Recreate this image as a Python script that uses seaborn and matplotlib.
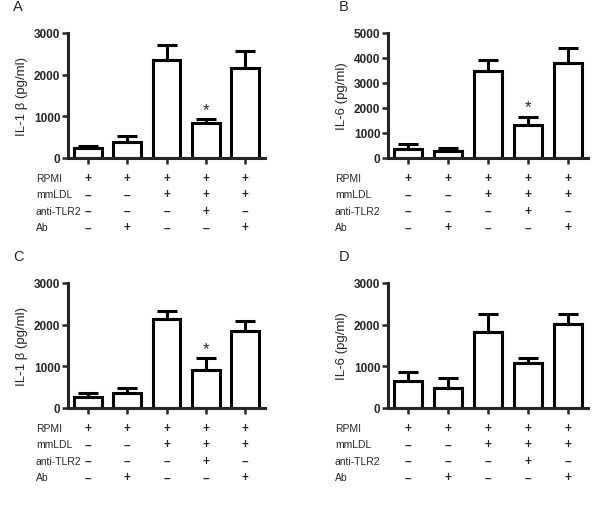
import numpy as np
import pandas as pd
import matplotlib
matplotlib.use("Agg")
import matplotlib.pyplot as plt
import seaborn as sns

sns.set_style("ticks")
plt.rcParams['font.family'] = ['Liberation Sans', 'DejaVu Sans']

groups = ['g1', 'g2', 'g3', 'g4', 'g5']
row_names = ['RPMI', 'mmLDL', 'anti-TLR2', 'Ab']
row_signs = [['+', '+', '+', '+', '+'],
             ['–', '–', '+', '+', '+'],
             ['–', '–', '–', '+', '–'],
             ['–', '+', '–', '–', '+']]

# panel A: IL-1 beta
a_mean = [245, 395, 2360, 835, 2160]
a_err = [50, 140, 360, 105, 415]
# panel B: IL-6
b_mean = [350, 280, 3500, 1325, 3810]
b_err = [225, 135, 440, 335, 590]
# panel C: IL-1 beta
c_mean = [270, 360, 2140, 920, 1860]
c_err = [90, 130, 195, 275, 235]
# panel D: IL-6
d_mean = [640, 480, 1815, 1085, 2015]
d_err = [225, 235, 430, 120, 240]

panels = [
    ('A', a_mean, a_err, 'IL-1 β (pg/ml)', 3000, [0, 1000, 2000, 3000], 3, (68, 34, 265, 159)),
    ('B', b_mean, b_err, 'IL-6 (pg/ml)', 5000, [0, 1000, 2000, 3000, 4000, 5000], 3, (388, 34, 588, 159)),
    ('C', c_mean, c_err, 'IL-1 β (pg/ml)', 3000, [0, 1000, 2000, 3000], 3, (68, 284, 265, 409)),
    ('D', d_mean, d_err, 'IL-6 (pg/ml)', 3000, [0, 1000, 2000, 3000], None, (388, 284, 588, 409)),
]

W, H = 600, 506
fig = plt.figure(figsize=(W / 100, H / 100), dpi=100)

for letter, mean, err, ylab, ymax, yticks, star, (x0, y0, x1, y1) in panels:
    ax = fig.add_axes([x0 / W, 1 - y1 / H, (x1 - x0) / W, (y1 - y0) / H])
    df = pd.DataFrame({'group': groups, 'value': mean})
    sns.barplot(data=df, x='group', y='value', color='white', edgecolor='black',
                linewidth=2.2, width=0.71, errorbar=None, ax=ax)
    ax.errorbar(range(5), mean, yerr=[np.zeros(5), err], fmt='none',
                ecolor='black', elinewidth=2.2, capsize=7.5, capthick=2.2, zorder=1)
    ax.set_xlim(-0.5, 4.5)
    ax.set_ylim(0, ymax)
    ax.set_yticks(yticks)
    ax.set_yticklabels([str(t) for t in yticks], fontweight='bold', fontsize=8.5)
    ax.set_xticks(range(5))
    ax.set_xticklabels([])
    ax.set_xlabel('')
    ax.set_ylabel(ylab, fontsize=9.5, labelpad=4)
    for s in ['top', 'right']:
        ax.spines[s].set_visible(False)
    for s in ['left', 'bottom']:
        ax.spines[s].set_linewidth(2.2)
    ax.tick_params(axis='both', direction='out', length=4.5, width=1.8, pad=1)

    if star is not None:
        ax.annotate('*', xy=(star, mean[star] + err[star]), xytext=(0, 2),
                    textcoords='offset pixels', ha='center', va='bottom', fontsize=12)

    # condition table under the axis
    label_x = x0 - (32 if letter in 'AC' else 53)
    for r, (name, signs) in enumerate(zip(row_names, row_signs)):
        dy = -(20 + 16.5 * r)
        ax.annotate(name, xy=(0, 0), xycoords='axes fraction',
                    xytext=(label_x - x0, dy), textcoords='offset pixels',
                    ha='left', va='center', fontsize=7.5)
        for i, s in enumerate(signs):
            ax.annotate(s, xy=(i, 0), xycoords=('data', 'axes fraction'),
                        xytext=(0, dy), textcoords='offset pixels',
                        ha='center', va='center', fontsize=8.5, fontweight='bold')

    fig.text((x0 - (55 if letter in 'AC' else 49)) / W, 1 - (y0 - 27) / H, letter,
             fontsize=10.5, ha='left', va='center')

fig.savefig('out.png', dpi=100)
